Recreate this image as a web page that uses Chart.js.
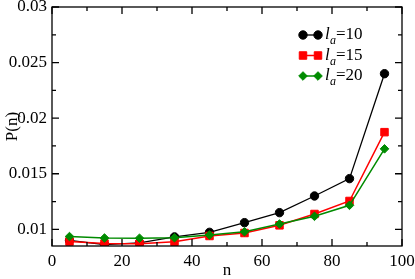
<!DOCTYPE html>
<html>
<head>
<meta charset="utf-8">
<script src="https://cdn.jsdelivr.net/npm/chart.js@4"></script>
<style>
  html, body { margin: 0; padding: 0; background: #fff; }
  #wrap { width: 415px; height: 279px; }
</style>
</head>
<body>
<div id="wrap"><canvas id="chart"></canvas></div>
<script>
const nValues = [5, 15, 25, 35, 45, 55, 65, 75, 85, 95];
const la10 = [0.0090, 0.00863, 0.00878, 0.00932, 0.00973, 0.0106, 0.0115, 0.0130, 0.01456, 0.0240];
const la15 = [0.0089, 0.00872, 0.0087, 0.00888, 0.0094, 0.00967, 0.01036, 0.01138, 0.01255, 0.01874];
const la20 = [0.00935, 0.00922, 0.0092, 0.00924, 0.00949, 0.00978, 0.01048, 0.01117, 0.01216, 0.01724];
const seriesNames = ['10', '15', '20'];
const yTickValues = [0.01, 0.015, 0.02, 0.025, 0.03];
const yTickLabels = ['0.01', '0.015', '0.02', '0.025', '0.03'];
const xTickValues = [0, 20, 40, 60, 80, 100];

const FONT = '"Liberation Serif", "DejaVu Serif", serif';

function pts(ys) {
    return nValues.map((n, i) => ({ x: n, y: ys[i] }));
}

// frame + inward ticks on all four sides
const framePlugin = {
    id: 'frame',
    afterDatasetsDraw(chart) {
        const { ctx, chartArea: a, scales } = chart;
        const xs = scales.x, ys = scales.y;
        ctx.save();
        ctx.strokeStyle = '#000';
        ctx.lineWidth = 1.3;
        ctx.strokeRect(a.left, a.top, a.right - a.left, a.bottom - a.top);
        ctx.beginPath();
        for (let v = 0; v <= 100; v += 10) {
            const px = xs.getPixelForValue(v);
            const len = v % 20 === 0 ? 7 : 4;
            ctx.moveTo(px, a.bottom); ctx.lineTo(px, a.bottom - len);
            ctx.moveTo(px, a.top); ctx.lineTo(px, a.top + len);
        }
        for (let k = 0; k <= 8; k++) {
            const v = 0.01 + k * 0.0025;
            const py = ys.getPixelForValue(v);
            const len = k % 2 === 0 ? 7 : 4;
            ctx.moveTo(a.left, py); ctx.lineTo(a.left + len, py);
            ctx.moveTo(a.right, py); ctx.lineTo(a.right - len, py);
        }
        ctx.stroke();
        ctx.restore();
    }
};

// legend with italic l and subscript a
const legendPlugin = {
    id: 'subLegend',
    afterDraw(chart) {
        const { ctx, chartArea: a } = chart;
        const x0 = a.right - 99, x1 = a.right - 84;
        const rows = [35, 55.5, 76];
        ctx.save();
        chart.data.datasets.forEach((ds, i) => {
            const y = rows[i];
            ctx.strokeStyle = ds.borderColor;
            ctx.lineWidth = ds.borderWidth;
            ctx.beginPath();
            ctx.moveTo(x0, y); ctx.lineTo(x1, y);
            ctx.stroke();
            ctx.fillStyle = ds.backgroundColor;
            ctx.strokeStyle = ds.borderColor;
            ctx.lineWidth = 1;
            [x0, x1].forEach(px => {
                Chart.helpers.drawPoint(ctx, {
                    pointStyle: ds.pointStyle,
                    radius: ds.pointRadius,
                    borderWidth: 1
                }, px, y);
            });
            ctx.fillStyle = '#000';
            ctx.textBaseline = 'middle';
            ctx.textAlign = 'left';
            ctx.font = 'italic 17px ' + FONT;
            ctx.fillText('l', x1 + 7, y);
            ctx.font = 'italic 12px ' + FONT;
            ctx.fillText('a', x1 + 12, y + 6);
            ctx.font = '17px ' + FONT;
            ctx.fillText('=' + seriesNames[i], x1 + 18, y);
        });
        ctx.restore();
    }
};

function dataset(data, color, style, radius, width, order) {
    return {
        data: pts(data),
        borderColor: color,
        backgroundColor: color,
        pointBackgroundColor: color,
        pointBorderColor: color,
        pointStyle: style,
        pointRadius: radius,
        pointBorderWidth: 1,
        borderWidth: width,
        showLine: true,
        tension: 0,
        order: order
    };
}

new Chart(document.getElementById('chart'), {
    type: 'scatter',
    data: {
        datasets: [
            dataset(la10, '#000000', 'circle', 4.2, 1.3, 3),
            dataset(la15, '#ff0000', 'rect', 5.3, 1.5, 2),
            dataset(la20, '#008b00', 'rectRot', 4.3, 1.5, 1)
        ]
    },
    options: {
        responsive: true,
        maintainAspectRatio: false,
        animation: false,
        layout: { padding: { left: 0, top: 7, right: 13, bottom: 0 } },
        plugins: { legend: { display: false }, tooltip: { enabled: false } },
        scales: {
            x: {
                type: 'linear',
                min: 0,
                max: 100,
                afterBuildTicks: s => { s.ticks = xTickValues.map(v => ({ value: v })); },
                afterFit: s => { s.height = 33; s.paddingLeft = 0; s.paddingRight = 0; },
                grid: { display: false, drawTicks: false },
                border: { display: false },
                ticks: { color: '#000', padding: 5, maxRotation: 0, font: { family: FONT, size: 17 } },
                title: { display: true, text: 'n', color: '#000', padding: 0, font: { family: FONT, size: 17, lineHeight: 1 } }
            },
            y: {
                type: 'linear',
                min: 0.0085,
                max: 0.03,
                afterBuildTicks: s => { s.ticks = yTickValues.map(v => ({ value: v })); },
                afterFit: s => { s.width = 52; s.paddingTop = 0; s.paddingBottom = 0; },
                grid: { display: false, drawTicks: false },
                border: { display: false },
                ticks: {
                    color: '#000', padding: 5,
                    font: { family: FONT, size: 17 },
                    callback: v => yTickLabels[yTickValues.indexOf(v)]
                },
                title: { display: true, text: 'P(n)', color: '#000', padding: { top: 2, bottom: 0 }, font: { family: FONT, size: 17 } }
            }
        }
    },
    plugins: [framePlugin, legendPlugin]
});
</script>
</body>
</html>
